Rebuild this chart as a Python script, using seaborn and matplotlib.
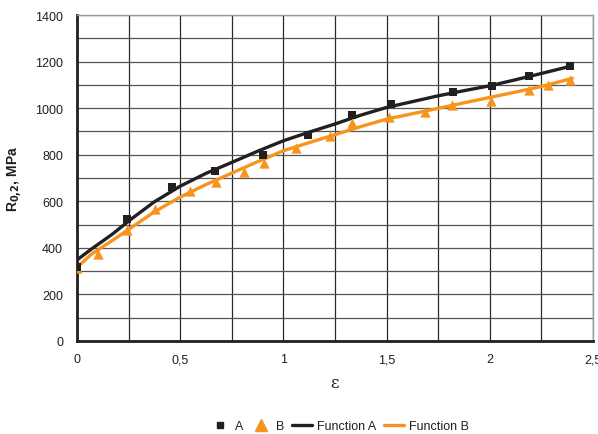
import matplotlib
matplotlib.use("Agg")
import matplotlib.pyplot as plt
import seaborn as sns
import pandas as pd
from matplotlib.ticker import MultipleLocator, FuncFormatter
from matplotlib.lines import Line2D

sns.set_style("white")
plt.rcParams['font.family'] = ['Liberation Sans', 'DejaVu Sans']

# Measured points
a_eps = [0.0, 0.24, 0.46, 0.67, 0.90, 1.12, 1.33, 1.52, 1.82, 2.01, 2.19, 2.39]
a_r = [317, 522, 661, 731, 800, 884, 972, 1017, 1068, 1093, 1139, 1182]
b_eps = [0.0, 0.10, 0.24, 0.38, 0.545, 0.675, 0.81, 0.905, 1.063, 1.226, 1.332,
         1.513, 1.688, 1.818, 2.005, 2.188, 2.284, 2.387]
b_r = [315, 374, 477, 567, 645, 681, 727, 764, 827, 881, 935, 960, 985, 1013,
       1032, 1079, 1100, 1122]

# Fitted function curves
fa_eps = [0.0, 0.07, 0.17, 0.26, 0.375, 0.5, 0.625, 0.75, 0.875, 1.0, 1.125,
          1.25, 1.375, 1.5, 1.625, 1.75, 1.875, 2.0, 2.125, 2.25, 2.4]
fa_r = [348, 395, 458, 522, 598, 665, 720, 767, 815, 860, 897,
        932, 970, 1003, 1028, 1053, 1075, 1096, 1122, 1149, 1182]
fb_eps = [0.0, 0.07, 0.17, 0.26, 0.375, 0.5, 0.625, 0.75, 0.875, 1.0, 1.125,
          1.25, 1.375, 1.5, 1.625, 1.75, 1.875, 2.0, 2.125, 2.25, 2.4]
fb_r = [316, 373, 431, 485, 555, 618, 672, 721, 770, 817, 852,
        886, 921, 953, 976, 999, 1023, 1046, 1069, 1093, 1128]

x_ticks = [0, 0.5, 1, 1.5, 2, 2.5]
y_ticks = [0, 200, 400, 600, 800, 1000, 1200, 1400]

black = "#231f20"
orange = "#f7941d"

fig = plt.figure(figsize=(5.98, 4.35), dpi=100)
ax = fig.add_axes([0.1288, 0.2138, 0.8628, 0.7494])

ax.set_xlim(0, 2.5)
ax.set_ylim(0, 1400)
ax.xaxis.set_minor_locator(MultipleLocator(0.25))
ax.yaxis.set_minor_locator(MultipleLocator(100))
ax.set_xticks(x_ticks)
ax.set_yticks(y_ticks)
ax.grid(True, which='both', axis='x', color='#2a2a2a', lw=0.9)
ax.grid(True, which='both', axis='y', color='#555555', lw=0.9)
ax.set_axisbelow(True)

fa = pd.DataFrame({"eps": fa_eps, "r": fa_r})
fb = pd.DataFrame({"eps": fb_eps, "r": fb_r})
da = pd.DataFrame({"eps": a_eps, "r": a_r})
db = pd.DataFrame({"eps": b_eps, "r": b_r})

sns.lineplot(data=fb, x="eps", y="r", ax=ax, color=orange, lw=2.4, sort=False, legend=False)
sns.lineplot(data=fa, x="eps", y="r", ax=ax, color=black, lw=2.4, sort=False, legend=False)
sns.scatterplot(data=db, x="eps", y="r", ax=ax, color=orange, marker='^', s=55,
                edgecolor=orange, linewidth=0, legend=False, zorder=4)
sns.scatterplot(data=da, x="eps", y="r", ax=ax, color=black, marker='s', s=32,
                edgecolor=black, linewidth=0, legend=False, zorder=4)

for s in ['top', 'right']:
    ax.spines[s].set_color('#999999')
    ax.spines[s].set_linewidth(1.0)
for s in ['left', 'bottom']:
    ax.spines[s].set_color('#231f20')
    ax.spines[s].set_linewidth(2.0)

fmt = lambda v, p: (('%g' % v).replace('.', ','))
ax.xaxis.set_major_formatter(FuncFormatter(fmt))
ax.tick_params(axis='both', which='major', direction='out', length=4, width=1.2,
               color='#231f20', labelsize=9, labelcolor='#231f20', pad=6)
ax.tick_params(axis='both', which='minor', length=0)
ax.tick_params(axis='x', pad=5)

ax.set_xlabel('ε', fontsize=12, family=['DejaVu Serif'], color='#231f20', labelpad=6)
ax.set_ylabel('R$_{\\mathbf{0{,}2}}$, MPa', fontsize=10, fontweight='bold', color='#231f20', labelpad=8)

handles = [
    Line2D([], [], marker='s', color=black, ls='none', ms=5),
    Line2D([], [], marker='^', color=orange, ls='none', ms=8),
    Line2D([], [], color=black, lw=2.4),
    Line2D([], [], color=orange, lw=2.4),
]
fig.legend(handles, ['A', 'B', 'Function A', 'Function B'], loc='center',
           bbox_to_anchor=(0.568, 0.018), ncol=4, frameon=False, fontsize=9,
           handlelength=1.6, handletextpad=0.4, columnspacing=0.6,
           labelcolor='#231f20')

fig.savefig('out.png', dpi=100)
